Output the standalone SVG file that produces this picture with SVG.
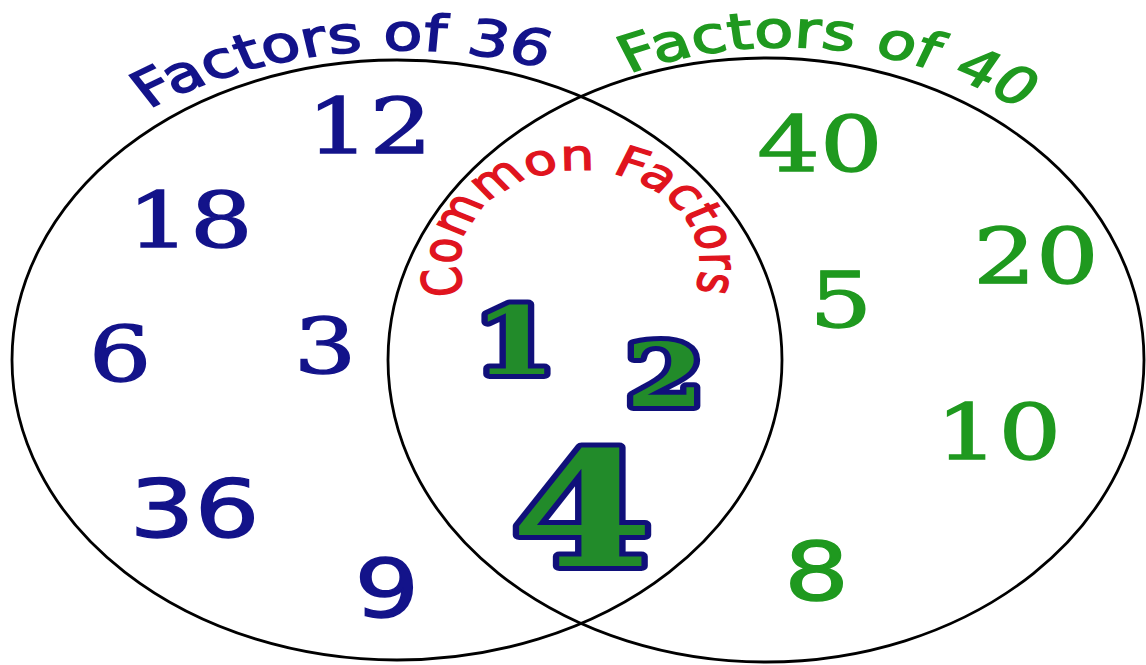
<svg xmlns="http://www.w3.org/2000/svg" width="1146" height="665" viewBox="0 0 1146 665">
<style>
.ring{fill:none;stroke:#000;stroke-width:2.8}
.serif{font-family:"DejaVu Serif","Liberation Serif",serif;font-size:77px;text-anchor:middle;stroke-width:1.4}
.sans{font-family:"DejaVu Sans","Liberation Sans",sans-serif;font-size:80px;text-anchor:middle;stroke-width:1.4}
.blue{fill:#13138a;stroke:#13138a}
.green{fill:#1f991f;stroke:#1f991f}
.lbl{font-family:"DejaVu Sans","Liberation Sans",sans-serif;font-size:50px;stroke-width:1.6}
.red{font-family:"DejaVu Sans","Liberation Sans",sans-serif;font-size:42px;fill:#e0141e;stroke:#e0141e;stroke-width:1.3}
.common{font-family:"DejaVu Serif","Liberation Serif",serif;font-weight:bold;text-anchor:middle;fill:#228b2a;stroke:#10107a;stroke-width:10;stroke-linejoin:round;paint-order:stroke}
</style>
<defs>
<path id="arcL" d="M -43.5 406 A 356 356 0 0 1 668.5 406"/>
<path id="arcR" d="M 315 346 A 299 299 0 0 1 913 346"/>
<path id="arcC" d="M 364.1 294.6 A 94 94 0 1 1 541.9 294.6"/>
</defs>
<rect width="1146" height="665" fill="#fff"/>
<g id="set36">
<ellipse class="ring" cx="397" cy="360" rx="385" ry="300"/>
</g>
<g id="set40">
<ellipse class="ring" cx="766" cy="360" rx="378" ry="302"/>
</g>
<g id="labels" transform="scale(1.28 1)">
<text class="lbl blue"><textPath href="#arcL" startOffset="351">Factors of 36</textPath></text>
<text class="lbl green"><textPath href="#arcR" startOffset="343">Factors of 40</textPath></text>
<text class="red"><textPath href="#arcC" startOffset="1">Common Factors</textPath></text>
</g>
<g id="only36" transform="scale(1.28 1)">
<text class="serif blue" x="288.7" y="153">12</text>
<text class="serif blue" x="148.4" y="247">18</text>
<text class="serif blue" x="93.75" y="381">6</text>
<text class="serif blue" x="254" y="373">3</text>
<text class="sans blue" x="152" y="537">36</text>
<text class="sans blue" x="302.3" y="617">9</text>
</g>
<g id="only40" transform="scale(1.28 1)">
<text class="serif green" x="640.6" y="171">40</text>
<text class="serif green" x="809.4" y="283">20</text>
<text class="serif green" x="657" y="327">5</text>
<text class="serif green" x="780" y="459">10</text>
<text class="sans green" x="638" y="600">8</text>
</g>
<g id="common" transform="scale(1.28 1)">
<text class="common" x="402" y="374" font-size="93">1</text>
<text class="common" x="519.5" y="406" font-size="88">2</text>
<text class="common" x="454.7" y="566" font-size="160">4</text>
</g>
</svg>
